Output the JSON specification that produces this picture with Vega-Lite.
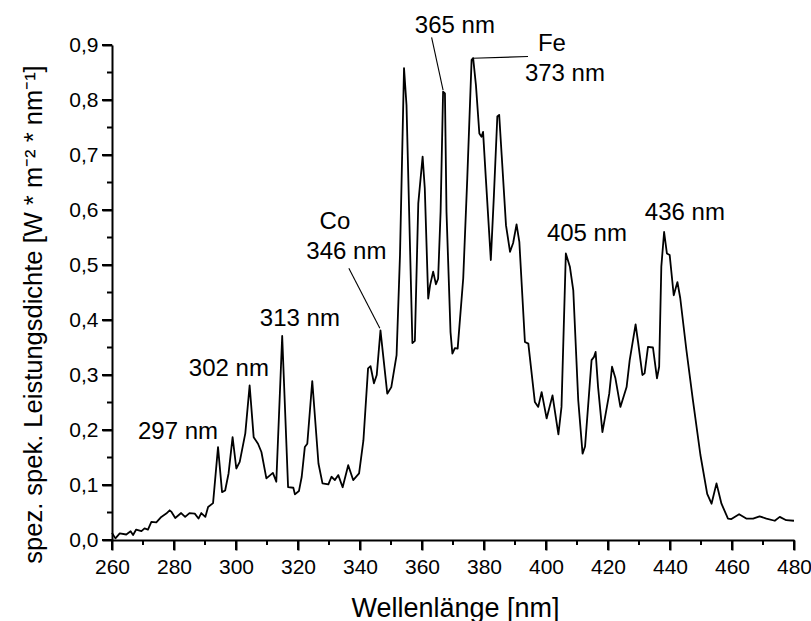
{
  "$schema": "https://vega.github.io/schema/vega-lite/v6.json",
  "width": 682,
  "height": 495,
  "autosize": {"type": "none"},
  "padding": {"left": 112, "top": 45, "right": 17, "bottom": 81},
  "background": "white",
  "config": {
    "view": {"stroke": null},
    "font": "Liberation Sans",
    "axis": {
      "grid": false,
      "domainColor": "black",
      "domainWidth": 2,
      "tickColor": "black",
      "tickWidth": 2,
      "labelFont": "Liberation Sans",
      "labelFontSize": 21,
      "labelColor": "black",
      "titleFont": "Liberation Sans",
      "titleFontSize": 26,
      "titleFontWeight": "normal",
      "titleColor": "black",
      "labelOverlap": false,
      "labelFlush": false
    }
  },
  "datasets": {
    "spec": [
      {"nm": 260, "v": 0.013}, {"nm": 261.1, "v": 0.003}, {"nm": 262.5, "v": 0.012}, {"nm": 264.6, "v": 0.010},
      {"nm": 266.0, "v": 0.016}, {"nm": 266.8, "v": 0.009}, {"nm": 267.8, "v": 0.019}, {"nm": 269.5, "v": 0.016},
      {"nm": 270.5, "v": 0.021}, {"nm": 271.6, "v": 0.019}, {"nm": 272.7, "v": 0.033}, {"nm": 274.3, "v": 0.032},
      {"nm": 275.9, "v": 0.042}, {"nm": 277.5, "v": 0.048}, {"nm": 278.6, "v": 0.054}, {"nm": 279.2, "v": 0.051},
      {"nm": 280.4, "v": 0.040}, {"nm": 282.3, "v": 0.049}, {"nm": 283.6, "v": 0.042}, {"nm": 285.0, "v": 0.049},
      {"nm": 286.7, "v": 0.048}, {"nm": 287.9, "v": 0.039}, {"nm": 288.8, "v": 0.049}, {"nm": 290.1, "v": 0.042},
      {"nm": 291.0, "v": 0.060}, {"nm": 292.6, "v": 0.067}, {"nm": 294.2, "v": 0.169}, {"nm": 295.5, "v": 0.087},
      {"nm": 296.5, "v": 0.090}, {"nm": 297.6, "v": 0.121}, {"nm": 298.9, "v": 0.187}, {"nm": 300.1, "v": 0.130},
      {"nm": 301.2, "v": 0.142}, {"nm": 303.0, "v": 0.194}, {"nm": 304.4, "v": 0.281}, {"nm": 305.7, "v": 0.187},
      {"nm": 307.1, "v": 0.175}, {"nm": 308.2, "v": 0.160}, {"nm": 309.8, "v": 0.112}, {"nm": 311.9, "v": 0.122},
      {"nm": 313.0, "v": 0.106}, {"nm": 314.9, "v": 0.371}, {"nm": 316.8, "v": 0.096}, {"nm": 318.5, "v": 0.095},
      {"nm": 319.0, "v": 0.083}, {"nm": 320.3, "v": 0.089}, {"nm": 321.2, "v": 0.115}, {"nm": 322.2, "v": 0.169},
      {"nm": 323.0, "v": 0.175}, {"nm": 324.6, "v": 0.289}, {"nm": 326.6, "v": 0.139}, {"nm": 327.9, "v": 0.103},
      {"nm": 329.8, "v": 0.101}, {"nm": 330.8, "v": 0.115}, {"nm": 331.9, "v": 0.109}, {"nm": 333.0, "v": 0.118},
      {"nm": 334.4, "v": 0.096}, {"nm": 336.2, "v": 0.136}, {"nm": 337.8, "v": 0.109}, {"nm": 339.7, "v": 0.121},
      {"nm": 341.1, "v": 0.181}, {"nm": 342.6, "v": 0.312}, {"nm": 343.4, "v": 0.316}, {"nm": 344.5, "v": 0.285},
      {"nm": 345.4, "v": 0.300}, {"nm": 346.6, "v": 0.381}, {"nm": 348.8, "v": 0.266}, {"nm": 350.1, "v": 0.278},
      {"nm": 351.8, "v": 0.336}, {"nm": 352.9, "v": 0.518}, {"nm": 354.2, "v": 0.858}, {"nm": 355.0, "v": 0.791},
      {"nm": 356.9, "v": 0.358}, {"nm": 357.7, "v": 0.362}, {"nm": 358.8, "v": 0.612}, {"nm": 360.2, "v": 0.697},
      {"nm": 360.9, "v": 0.639}, {"nm": 362.0, "v": 0.439}, {"nm": 362.6, "v": 0.463}, {"nm": 363.6, "v": 0.488},
      {"nm": 364.5, "v": 0.465}, {"nm": 365.2, "v": 0.475}, {"nm": 366.0, "v": 0.597}, {"nm": 366.8, "v": 0.815},
      {"nm": 367.4, "v": 0.812}, {"nm": 367.9, "v": 0.597}, {"nm": 369.2, "v": 0.378}, {"nm": 369.8, "v": 0.339},
      {"nm": 370.6, "v": 0.349}, {"nm": 371.5, "v": 0.348}, {"nm": 373.3, "v": 0.476}, {"nm": 374.6, "v": 0.657},
      {"nm": 376.0, "v": 0.873}, {"nm": 376.5, "v": 0.876}, {"nm": 377.4, "v": 0.827}, {"nm": 378.5, "v": 0.739},
      {"nm": 379.2, "v": 0.733}, {"nm": 379.7, "v": 0.742}, {"nm": 380.6, "v": 0.657}, {"nm": 382.2, "v": 0.509},
      {"nm": 383.2, "v": 0.627}, {"nm": 384.3, "v": 0.770}, {"nm": 384.9, "v": 0.773}, {"nm": 385.7, "v": 0.700},
      {"nm": 387.1, "v": 0.572}, {"nm": 388.4, "v": 0.524}, {"nm": 389.4, "v": 0.540}, {"nm": 390.5, "v": 0.574},
      {"nm": 391.4, "v": 0.542}, {"nm": 393.2, "v": 0.360}, {"nm": 394.3, "v": 0.357}, {"nm": 396.4, "v": 0.251},
      {"nm": 397.5, "v": 0.242}, {"nm": 398.6, "v": 0.269}, {"nm": 400.2, "v": 0.221}, {"nm": 402.1, "v": 0.263},
      {"nm": 404.0, "v": 0.192}, {"nm": 405.0, "v": 0.242}, {"nm": 406.4, "v": 0.521}, {"nm": 407.7, "v": 0.497},
      {"nm": 408.8, "v": 0.454}, {"nm": 410.4, "v": 0.254}, {"nm": 411.8, "v": 0.157}, {"nm": 412.6, "v": 0.170},
      {"nm": 414.7, "v": 0.327}, {"nm": 415.5, "v": 0.333}, {"nm": 416.0, "v": 0.342}, {"nm": 416.8, "v": 0.278},
      {"nm": 418.2, "v": 0.196}, {"nm": 420.4, "v": 0.266}, {"nm": 421.3, "v": 0.315}, {"nm": 422.4, "v": 0.294},
      {"nm": 424.0, "v": 0.242}, {"nm": 426.0, "v": 0.278}, {"nm": 427.0, "v": 0.327}, {"nm": 428.9, "v": 0.392},
      {"nm": 429.7, "v": 0.360}, {"nm": 431.1, "v": 0.300}, {"nm": 431.8, "v": 0.303}, {"nm": 432.9, "v": 0.351},
      {"nm": 434.5, "v": 0.350}, {"nm": 435.8, "v": 0.294}, {"nm": 436.5, "v": 0.315}, {"nm": 437.2, "v": 0.497},
      {"nm": 438.1, "v": 0.560}, {"nm": 439.0, "v": 0.521}, {"nm": 439.9, "v": 0.518}, {"nm": 441.2, "v": 0.445},
      {"nm": 442.4, "v": 0.469}, {"nm": 443.3, "v": 0.440}, {"nm": 445.3, "v": 0.345}, {"nm": 447.4, "v": 0.254},
      {"nm": 449.8, "v": 0.155}, {"nm": 452.0, "v": 0.084}, {"nm": 453.4, "v": 0.066}, {"nm": 455.0, "v": 0.103},
      {"nm": 456.6, "v": 0.066}, {"nm": 458.7, "v": 0.039}, {"nm": 459.8, "v": 0.038}, {"nm": 462.3, "v": 0.047},
      {"nm": 464.6, "v": 0.039}, {"nm": 466.8, "v": 0.039}, {"nm": 468.9, "v": 0.043}, {"nm": 471.1, "v": 0.039},
      {"nm": 473.8, "v": 0.035}, {"nm": 475.4, "v": 0.042}, {"nm": 477.5, "v": 0.036}, {"nm": 480.0, "v": 0.035}
    ],
    "labels": [
      {"nm": 281.3, "v": 0.196, "text": "297 nm"},
      {"nm": 297.7, "v": 0.311, "text": "302 nm"},
      {"nm": 320.6, "v": 0.401, "text": "313 nm"},
      {"nm": 331.9, "v": 0.578, "text": "Co"},
      {"nm": 335.6, "v": 0.523, "text": "346 nm"},
      {"nm": 370.6, "v": 0.934, "text": "365 nm"},
      {"nm": 401.9, "v": 0.902, "text": "Fe"},
      {"nm": 406.1, "v": 0.848, "text": "373 nm"},
      {"nm": 413.2, "v": 0.556, "text": "405 nm"},
      {"nm": 444.8, "v": 0.594, "text": "436 nm"}
    ],
    "leaders": [
      {"nm": 336.4, "v": 0.494, "nm2": 346.4, "v2": 0.385},
      {"nm": 363.1, "v": 0.914, "nm2": 366.8, "v2": 0.818},
      {"nm": 376.3, "v": 0.876, "nm2": 394.2, "v2": 0.879}
    ],
    "xt": [
      {"t": 260}, {"t": 270}, {"t": 280}, {"t": 290}, {"t": 300}, {"t": 310}, {"t": 320}, {"t": 330},
      {"t": 340}, {"t": 350}, {"t": 360}, {"t": 370}, {"t": 380}, {"t": 390}, {"t": 400}, {"t": 410},
      {"t": 420}, {"t": 430}, {"t": 440}, {"t": 450}, {"t": 460}, {"t": 470}, {"t": 480}
    ],
    "yt": [
      {"t": 0}, {"t": 0.05}, {"t": 0.1}, {"t": 0.15}, {"t": 0.2}, {"t": 0.25}, {"t": 0.3}, {"t": 0.35},
      {"t": 0.4}, {"t": 0.45}, {"t": 0.5}, {"t": 0.55}, {"t": 0.6}, {"t": 0.65}, {"t": 0.7}, {"t": 0.75},
      {"t": 0.8}, {"t": 0.85}, {"t": 0.9}
    ]
  },
  "layer": [
    {
      "data": {"name": "spec"},
      "mark": {"type": "line", "color": "black", "strokeWidth": 1.8, "strokeJoin": "round"},
      "encoding": {
        "x": {
          "field": "nm", "type": "quantitative",
          "scale": {"domain": [260, 480], "nice": false, "zero": false},
          "axis": {
            "title": "Wellenlänge [nm]",
            "values": [260, 280, 300, 320, 340, 360, 380, 400, 420, 440, 460, 480],
            "format": "d",
            "tickSize": 10,
            "labelPadding": 6,
            "titleX": 343,
            "titleY": 76,
            "titleAlign": "center",
            "titleBaseline": "alphabetic",
            "titleFontSize": 27
          }
        },
        "y": {
          "field": "v", "type": "quantitative",
          "scale": {"domain": [0, 0.9], "nice": false, "zero": false},
          "axis": {
            "title": "spez. spek. Leistungsdichte [W * m⁻² * nm⁻¹]",
            "values": [0, 0.1, 0.2, 0.3, 0.4, 0.5, 0.6, 0.7, 0.8, 0.9],
            "labelExpr": "replace(format(datum.value, '.1f'), '.', ',')",
            "tickSize": 10,
            "labelPadding": 4,
            "titleAngle": -90,
            "titleX": -71,
            "titleY": 269,
            "titleAlign": "center",
            "titleBaseline": "alphabetic",
            "titleFontSize": 25.5
          }
        }
      }
    },
    {
      "data": {"name": "xt"},
      "transform": [{"filter": "datum.t % 20 === 0"}],
      "mark": {"type": "tick", "color": "black", "thickness": 2, "size": 10, "orient": "vertical", "yOffset": 5, "opacity": 1},
      "encoding": {
        "x": {"field": "t", "type": "quantitative"},
        "y": {"datum": 0, "type": "quantitative"}
      }
    },
    {
      "data": {"name": "xt"},
      "transform": [{"filter": "datum.t % 20 !== 0"}],
      "mark": {"type": "tick", "color": "black", "thickness": 2, "size": 5, "orient": "vertical", "yOffset": 2.5, "opacity": 1},
      "encoding": {
        "x": {"field": "t", "type": "quantitative"},
        "y": {"datum": 0, "type": "quantitative"}
      }
    },
    {
      "data": {"name": "yt"},
      "transform": [{"filter": "round(datum.t * 100) % 10 === 0"}],
      "mark": {"type": "tick", "color": "black", "thickness": 2, "size": 10, "orient": "horizontal", "xOffset": -5, "opacity": 1},
      "encoding": {
        "y": {"field": "t", "type": "quantitative"},
        "x": {"datum": 260, "type": "quantitative"}
      }
    },
    {
      "data": {"name": "yt"},
      "transform": [{"filter": "round(datum.t * 100) % 10 !== 0"}],
      "mark": {"type": "tick", "color": "black", "thickness": 2, "size": 5, "orient": "horizontal", "xOffset": -2.5, "opacity": 1},
      "encoding": {
        "y": {"field": "t", "type": "quantitative"},
        "x": {"datum": 260, "type": "quantitative"}
      }
    },
    {
      "data": {"name": "leaders"},
      "mark": {"type": "rule", "color": "black", "strokeWidth": 1.1},
      "encoding": {
        "x": {"field": "nm", "type": "quantitative"},
        "y": {"field": "v", "type": "quantitative"},
        "x2": {"field": "nm2"},
        "y2": {"field": "v2"}
      }
    },
    {
      "data": {"name": "labels"},
      "mark": {"type": "text", "color": "black", "font": "Liberation Sans", "fontSize": 24, "align": "center", "baseline": "middle"},
      "encoding": {
        "x": {"field": "nm", "type": "quantitative"},
        "y": {"field": "v", "type": "quantitative"},
        "text": {"field": "text"}
      }
    }
  ]
}
